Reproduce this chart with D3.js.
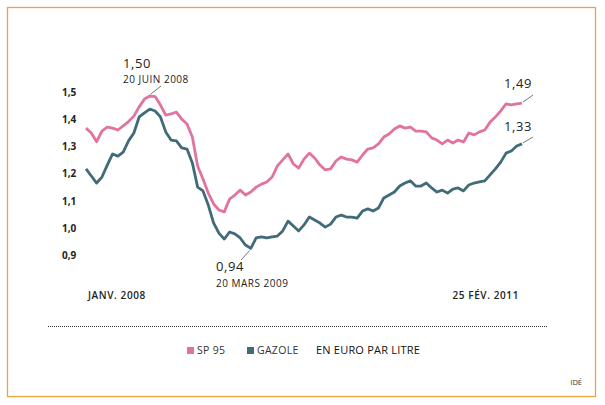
<!DOCTYPE html>
<html><head><meta charset="utf-8">
<script src="https://cdn.jsdelivr.net/npm/d3@7"></script>
<style>body{margin:0;background:#fff}svg{display:block}text{font-family:"Open Sans",sans-serif}</style>
</head><body>
<svg id="c" width="605" height="405"></svg>
<script>
// Biweekly readings, 4 Jan 2008 -> 25 Feb 2011 (EUR / litre)
const startDate = "2008-01-04";
const endDate = "2011-02-25";
const sp95 = [1.382,1.364,1.332,1.371,1.386,1.382,1.375,1.390,1.406,1.426,1.460,1.489,1.500,1.498,1.467,1.430,1.434,1.441,1.415,1.397,1.349,1.243,1.195,1.143,1.103,1.081,1.074,1.121,1.136,1.154,1.136,1.147,1.165,1.176,1.184,1.202,1.243,1.265,1.287,1.250,1.235,1.268,1.290,1.272,1.246,1.228,1.232,1.261,1.276,1.268,1.265,1.257,1.283,1.305,1.309,1.324,1.349,1.360,1.379,1.390,1.382,1.386,1.371,1.371,1.368,1.346,1.338,1.324,1.338,1.327,1.338,1.331,1.364,1.357,1.368,1.375,1.404,1.423,1.445,1.471,1.467,1.471,1.474];
const gazole = [1.232,1.206,1.180,1.202,1.246,1.287,1.279,1.294,1.335,1.364,1.423,1.438,1.452,1.445,1.423,1.368,1.338,1.335,1.309,1.305,1.254,1.165,1.151,1.099,1.033,0.996,0.974,1.000,0.993,0.978,0.952,0.940,0.978,0.982,0.978,0.982,0.985,1.004,1.040,1.022,1.004,1.026,1.055,1.044,1.033,1.018,1.029,1.055,1.062,1.055,1.055,1.051,1.077,1.085,1.077,1.088,1.125,1.136,1.147,1.169,1.180,1.188,1.169,1.169,1.180,1.162,1.147,1.154,1.143,1.158,1.162,1.151,1.173,1.180,1.184,1.188,1.210,1.232,1.257,1.290,1.298,1.316,1.324];
const yTicks = [0.9,1.0,1.1,1.2,1.3,1.4,1.5];
const seriesNames = ["SP 95","GAZOLE"];
const seriesColors = ["#e2739f","#416b79"];

const parse = d3.timeParse("%Y-%m-%d");
const t0 = parse(startDate), t1 = parse(endDate);
const dates = sp95.map((_, i) => d3.timeDay.offset(t0, i * 14));

const svg = d3.select("#c");
svg.append("rect").attr("x",7.5).attr("y",7.5).attr("width",588).attr("height",389)
  .attr("fill","#fff").attr("stroke","#e9a244").attr("stroke-width",1.3);

const x = d3.scaleTime().domain([t0, t1]).range([86, 522]);
const y = d3.scaleLinear().domain([0.9, 1.5]).range([259.2, 96]);

// y tick labels
const yAxis = d3.axisLeft(y).tickValues(yTicks).tickSize(0)
  .tickFormat(d => d3.format(".1f")(d).replace(".", ","));
const ga = svg.append("g").attr("transform","translate(78,-4)").call(yAxis);
ga.select(".domain").remove();
ga.selectAll("text").attr("font-size",10).attr("font-weight","bold").attr("fill","#222")
  .attr("text-anchor","start").attr("x",-16).attr("font-family","'Open Sans',sans-serif");

const line = d3.line().x((d, i) => x(dates[i])).y(d => y(d));
[gazole, sp95].forEach((s, k) => {
  svg.append("path").datum(s).attr("d", line).attr("fill","none")
    .attr("stroke", seriesColors[1-k]).attr("stroke-width",2.8).attr("stroke-linejoin","round");
});

function txt(xp, yp, s, size, opts = {}) {
  return svg.append("text").attr("x", xp).attr("y", yp).text(s).attr("font-size", size)
    .attr("fill", opts.fill || "#222").attr("font-weight", opts.weight || "normal")
    .attr("letter-spacing", opts.ls || 0)
    .attr("text-anchor", opts.anchor || "start").attr("dominant-baseline","middle");
}
function leader(x1, y1, x2, y2) {
  svg.append("line").attr("x1",x1).attr("y1",y1).attr("x2",x2).attr("y2",y2)
    .attr("stroke","#555").attr("stroke-width",0.8);
}
// annotations
const iMax = sp95.indexOf(d3.max(sp95));
const iMin = gazole.indexOf(d3.min(gazole));
const last = sp95.length - 1;
txt(123, 65, "1,50", 13, {ls: 0.6});
txt(123, 80, "20 JUIN 2008", 10, {ls: 0.5});
leader(x(dates[iMax]) + 1, y(sp95[iMax]) - 2, 161, 86);
txt(216, 268, "0,94", 13, {ls: 0.6});
txt(216, 284, "20 MARS 2009", 10, {ls: 0.5});
leader(x(dates[iMin]) - 1, y(gazole[iMin]) + 2, 241, 260);
txt(504, 85, "1,49", 13, {ls: 0.6});
leader(x(dates[last]) + 1, y(sp95[last]) - 1, 533, 95);
txt(504, 128, "1,33", 13, {ls: 0.6});
leader(x(dates[last]) + 1, y(gazole[last]) - 1, 533, 137);

txt(88, 296, "JANV. 2008", 10, {weight: 600, ls: 0.6});
txt(519, 296, "25 FÉV. 2011", 10, {weight: 600, anchor: "end", ls: 0.6});

svg.append("line").attr("x1",48).attr("x2",547).attr("y1",326.5).attr("y2",326.5)
  .attr("stroke","#333").attr("stroke-width",1).attr("stroke-dasharray","1,1");

// legend
const lx = [187, 247];
seriesNames.forEach((n, i) => {
  svg.append("rect").attr("x", lx[i]).attr("y", 347).attr("width", 7).attr("height", 7).attr("fill", seriesColors[i]);
  txt(lx[i] + 10, 351, n, 10.5, {fill: "#333", ls: 0.3});
});
txt(316, 351, "EN EURO PAR LITRE", 11, {fill: "#111", ls: 0.2});
txt(582, 383, "IDÉ", 7.5, {anchor: "end", fill: "#333"});
</script>
</body></html>
